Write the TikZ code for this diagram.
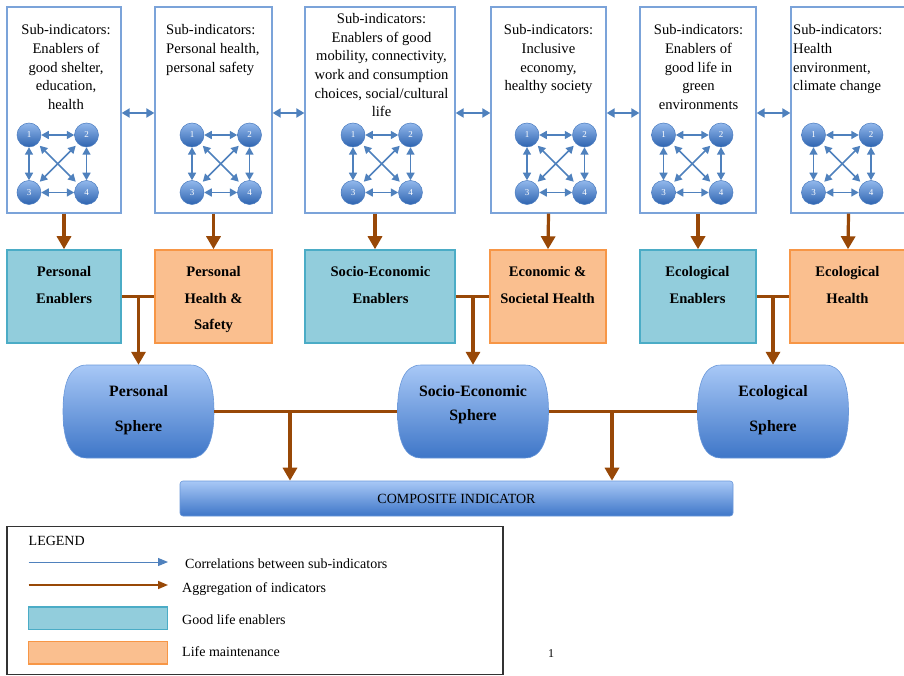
\documentclass[tikz,border=0pt]{standalone}
\usepackage{fontspec}
\setmainfont{Liberation Serif}
\usetikzlibrary{arrows.meta,calc}
\definecolor{corrblue}{HTML}{4F81BD}
\definecolor{boxblue}{HTML}{7BA3D9}
\definecolor{aggbrown}{HTML}{984807}
\definecolor{tealfill}{HTML}{92CDDC}
\definecolor{tealline}{HTML}{4BACC6}
\definecolor{orangefill}{HTML}{FABF8F}
\definecolor{orangeline}{HTML}{F79646}
\definecolor{sphtop}{HTML}{A8C8F6}
\definecolor{sphbot}{HTML}{3E76C8}
\definecolor{sphedge}{HTML}{6A98DA}
\definecolor{balltop}{HTML}{92B8EC}
\definecolor{ballbot}{HTML}{2E64B0}
\definecolor{ballline}{HTML}{4A7CC0}
\definecolor{legendgray}{HTML}{333333}
\begin{document}
\begin{tikzpicture}[x=1pt,y=-1pt,
  subbox/.style={draw=boxblue, line width=1.3pt, fill=white, inner sep=0pt, minimum height=206pt},
  subtext/.style={inner sep=0pt, anchor=north, align=center, font=\fontsize{14.6}{18.7}\selectfont},
  subtextl/.style={inner sep=0pt, anchor=north west, align=left, font=\fontsize{14.6}{18.7}\selectfont},
  ball/.style={circle, minimum size=24pt, inner sep=0pt, top color=balltop, bottom color=ballbot, draw=ballline, line width=0.5pt, text=white, font=\fontsize{9}{10}\selectfont},
  corr/.style={draw=corrblue, line width=1.5pt, {Triangle[length=7.5pt,width=8pt]}-{Triangle[length=7.5pt,width=8pt]}},
  corrbig/.style={draw=corrblue, line width=2pt, {Triangle[length=8pt,width=9pt]}-{Triangle[length=8pt,width=9pt]}},
  agg/.style={draw=aggbrown, line width=3.2pt, -{Triangle[length=13pt,width=14pt]}},
  aggline/.style={draw=aggbrown, line width=3.2pt},
  enabler/.style={draw=tealline, fill=tealfill, line width=1.5pt, minimum height=93pt, inner sep=0pt},
  maint/.style={draw=orangeline, fill=orangefill, line width=1.5pt, minimum height=93pt, inner sep=0pt},
  midtext/.style={inner sep=0pt, anchor=north, align=center, font=\bfseries\fontsize{14.6}{26.5}\selectfont},
  spherenode/.style={minimum width=151pt, minimum height=93pt, inner sep=0pt, draw=none},
  spheretext/.style={inner sep=0pt, align=center, font=\bfseries\fontsize{15.8}{35}\selectfont},
  legtext/.style={inner sep=0pt, anchor=base west, font=\fontsize{14}{16}\selectfont},
  minigraph/.pic={
    \node[ball] (-1) at (0,0) {1};
    \node[ball] (-2) at (57.5,0) {2};
    \node[ball] (-3) at (0,57.5) {3};
    \node[ball] (-4) at (57.5,57.5) {4};
    \draw[corr] (-1) -- (-2);
    \draw[corr] (-3) -- (-4);
    \draw[corr] (-1) -- (-3);
    \draw[corr] (-2) -- (-4);
    \draw[corr, shorten >=3pt, shorten <=3pt] (-1) -- (-4);
    \draw[corr, shorten >=3pt, shorten <=3pt] (-2) -- (-3);
  },
  barrel/.pic={
    \shade[top color=sphtop, bottom color=sphbot, draw=sphedge, line width=0.6pt]
      (-52,-46.5) -- (52,-46.5) .. controls (68,-46.5) and (75.5,-30) .. (75.5,0)
      .. controls (75.5,30) and (68,46.5) .. (52,46.5) -- (-52,46.5)
      .. controls (-68,46.5) and (-75.5,30) .. (-75.5,0)
      .. controls (-75.5,-30) and (-68,-46.5) .. (-52,-46.5) -- cycle;
  }
]
\useasboundingbox (0,0) rectangle (904,676);
\fill[white] (0,0) rectangle (904,676);

% top sub-indicator boxes
\node[subbox, minimum width=114pt] (b1) at (64,110) {};
\node[subbox, minimum width=117pt] (b2) at (213.5,110) {};
\node[subbox, minimum width=150pt] (b3) at (380,110) {};
\node[subbox, minimum width=115pt] (b4) at (548.5,110) {};
\node[subbox, minimum width=116pt] (b5) at (698,110) {};
\node[subbox, minimum width=115pt] (b6) at (848.5,110) {};

\node[subtext] (t1) at (66,24.5) {Sub-indicators:\\Enablers of\\good shelter,\\education,\\health};
\node[subtextl] (t2) at (166,24.5) {Sub-indicators:\\Personal health,\\personal safety};
\node[subtext] (t3) at (381.5,13) {Sub-indicators:\\Enablers of good\\mobility, connectivity,\\work and consumption\\choices, social/cultural\\life};
\node[subtext] (t4) at (548.5,24.5) {Sub-indicators:\\Inclusive\\economy,\\healthy society};
\node[subtext] (t5) at (698.5,24.5) {Sub-indicators:\\Enablers of\\good life in\\green\\environments};
\node[subtextl] (t6) at (793,24.5) {Sub-indicators:\\Health\\environment,\\climate change};

\pic (g1) at (29,135) {minigraph};
\pic (g2) at (192,135) {minigraph};
\pic (g3) at (353,135) {minigraph};
\pic (g4) at (527,135) {minigraph};
\pic (g5) at (663.5,135) {minigraph};
\pic (g6) at (813.5,135) {minigraph};

\draw[corrbig] ([yshift=-3pt]b1.east) -- ([yshift=-3pt]b2.west);
\draw[corrbig] ([yshift=-3pt]b2.east) -- ([yshift=-3pt]b3.west);
\draw[corrbig] ([yshift=-3pt]b3.east) -- ([yshift=-3pt]b4.west);
\draw[corrbig] ([yshift=-3pt]b4.east) -- ([yshift=-3pt]b5.west);
\draw[corrbig] ([yshift=-3pt]b5.east) -- ([yshift=-3pt]b6.west);

% middle boxes
\node[enabler, minimum width=114pt] (m1) at (64,296.5) {};
\node[maint, minimum width=117pt] (m2) at (213.5,296.5) {};
\node[enabler, minimum width=150pt] (m3) at (380,296.5) {};
\node[maint, minimum width=116pt] (m4) at (548,296.5) {};
\node[enabler, minimum width=116pt] (m5) at (698,296.5) {};
\node[maint, minimum width=116pt] (m6) at (848,296.5) {};

\node[midtext] (mt1) at (64,266.5) {Personal\\Enablers};
\node[midtext] (mt2) at (213.5,266.5) {Personal\\Health \&\\Safety};
\node[midtext] (mt3) at (380.5,266.5) {Socio-Economic\\Enablers};
\node[midtext] (mt4) at (547.5,266.5) {Economic \&\\Societal Health};
\node[midtext] (mt5) at (697.5,266.5) {Ecological\\Enablers};
\node[midtext] (mt6) at (847.5,266.5) {Ecological\\Health};

\draw[agg] (b1.south) -- (m1.north);
\draw[agg] (b2.south) -- (m2.north);
\draw[agg] ([xshift=-5pt]b3.south) -- ([xshift=-5pt]m3.north);
\draw[agg] (b4.south) -- (m4.north);
\draw[agg] (b5.south) -- (m5.north);
\draw[agg] (b6.south) -- (m6.north);

% spheres
\pic at (138.5,411.5) {barrel};
\pic at (473,411.5) {barrel};
\pic at (773,411.5) {barrel};
\node[spherenode] (ps) at (138.5,411.5) {};
\node[spherenode] (ss) at (473,411.5) {};
\node[spherenode] (es) at (773,411.5) {};
\node[spheretext] (pst) at (138.5,410) {Personal\\Sphere};
\node[spheretext, font=\bfseries\fontsize{15.8}{24}\selectfont] (sst) at (473,405) {Socio-Economic\\Sphere};
\node[spheretext] (est) at (773,410) {Ecological\\Sphere};

\draw[aggline] (m1) -- (m2);
\draw[aggline] (m3) -- (m4);
\draw[aggline] (m5) -- (m6);
\draw[agg] (m1.east -| ps.north) -- (ps.north);
\draw[agg] (m3.east -| ss.north) -- (ss.north);
\draw[agg] (m5.east -| es.north) -- (es.north);

% composite indicator
\node[minimum width=553pt, minimum height=35pt, inner sep=0pt, rounded corners=3pt,
      top color=sphtop, bottom color=sphbot, draw=sphedge, line width=0.6pt,
      font=\fontsize{14}{16}\selectfont] (ci) at (456.5,498.5) {COMPOSITE INDICATOR};

\draw[aggline] (ps) -- (ss);
\draw[aggline] (ss) -- (es);
\coordinate (j1) at (290,411.5);
\coordinate (j2) at (612,411.5);
\draw[agg] (j1) -- (j1 |- ci.north);
\draw[agg] (j2) -- (j2 |- ci.north);

% legend
\node[draw=legendgray, line width=1.2pt, minimum width=496pt, minimum height=148pt, inner sep=0pt] (lg) at (255,600.5) {};
\node[legtext] (lgt) at (28.5,545) {LEGEND};
\coordinate (la1) at (28.5,562);
\coordinate (la2) at (168,562);
\draw[draw=corrblue, line width=1pt, -{Triangle[length=10pt,width=8pt]}] (la1) -- (la2);
\node[legtext] (lc) at (185,568) {Correlations between sub-indicators};
\coordinate (lb1) at (28.5,585);
\coordinate (lb2) at (168,585);
\draw[draw=aggbrown, line width=1.5pt, -{Triangle[length=10pt,width=8pt]}] (lb1) -- (lb2);
\node[legtext] (la) at (182,592.5) {Aggregation of indicators};
\node[enabler, minimum width=139pt, minimum height=22.5pt] (le) at (98,618) {};
\node[legtext] (lge) at (182,624.5) {Good life enablers};
\node[maint, minimum width=139pt, minimum height=22.5pt] (lm) at (98,652.5) {};
\node[legtext] (lgm) at (182,656) {Life maintenance};
\node[inner sep=0pt, anchor=base, font=\fontsize{12}{14}\selectfont] (pg) at (551,657) {1};
\end{tikzpicture}
\end{document}
